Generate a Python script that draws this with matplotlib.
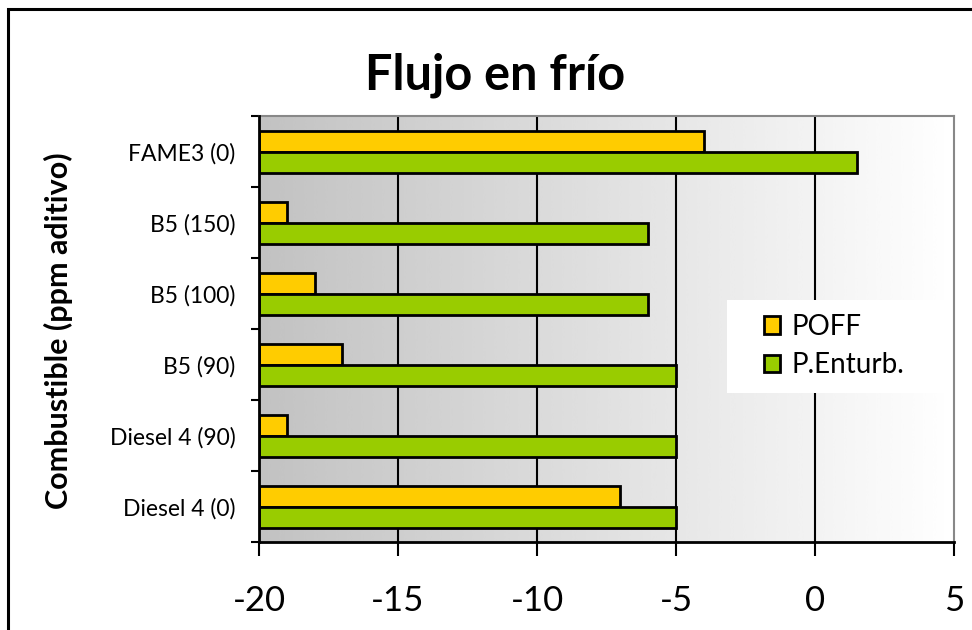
import numpy as np
import matplotlib.pyplot as plt
from matplotlib.patches import Rectangle

# datos
combustibles = ['Diesel 4 (0)', 'Diesel 4 (90)', 'B5 (90)', 'B5 (100)', 'B5 (150)', 'FAME3 (0)']
poff = [-7, -19, -17, -18, -19, -4]
p_enturb = [-5, -5, -5, -6, -6, 1.5]

plt.rcParams['font.family'] = ['Lato', 'DejaVu Sans']

fig = plt.figure(figsize=(9.72, 6.3), dpi=100)
ax = fig.add_axes([0.2665, 0.1397, 0.7150, 0.6762])

# fondo degradado gris -> blanco
grad = np.linspace(0.76, 1.0, 256).reshape(1, -1)
ax.imshow(grad, cmap='gray', vmin=0, vmax=1, aspect='auto',
          extent=[-20, 5, -0.5, 5.5], zorder=0, interpolation='bicubic')

for xv in [-15, -10, -5, 0]:
    ax.axvline(xv, color='black', lw=1.5, zorder=1)

y = np.arange(len(combustibles))
h = 0.285
ax.barh(y + 0.14, np.array(poff) + 20, left=-20, height=h, color='#FFCC00',
        edgecolor='black', lw=2, label='POFF', zorder=2)
ax.barh(y - 0.155, np.array(p_enturb) + 20, left=-20, height=h, color='#99CC00',
        edgecolor='black', lw=2, label='P.Enturb.', zorder=2)

ax.set_xlim(-20, 5)
ax.set_ylim(-0.5, 5.5)
ax.set_xticks([-20, -15, -10, -5, 0, 5])
ax.set_xticklabels(['-20', '-15', '-10', '-5', '0', '5'], fontsize=25)
ax.tick_params(axis='x', direction='out', length=10, width=1.5, pad=21)

ax.set_yticks(y)
ax.set_yticklabels(combustibles, fontsize=16.5)
ax.set_yticks(np.arange(-0.5, 6, 1), minor=True)
ax.tick_params(axis='y', which='major', length=0, pad=17)
ax.tick_params(axis='y', which='minor', direction='out', length=6, width=1.5)

for s in ['left', 'bottom']:
    ax.spines[s].set_linewidth(2)
    ax.spines[s].set_zorder(3)
for s in ['top', 'right']:
    ax.spines[s].set_color('#888888')
    ax.spines[s].set_linewidth(1.5)

fig.text(58 / 972, 1 - 331 / 630, 'Combustible (ppm aditivo)', fontsize=22,
         fontweight='bold', rotation=90, ha='center', va='center')
fig.text(0.509, 0.881, 'Flujo en frío', fontsize=35, fontweight='bold',
         ha='center', va='center')

# caja blanca de la leyenda
ax.add_patch(Rectangle((0.673, 0.350), 0.314, 0.218, transform=ax.transAxes,
                       facecolor='white', edgecolor='none', zorder=4))
leg = ax.legend(loc='upper left', bbox_to_anchor=(0.706, 0.568), fontsize=20,
                frameon=False, handlelength=0.6, handleheight=0.6,
                handletextpad=0.4, borderpad=0.5, labelspacing=0.45,
                borderaxespad=0)
leg.set_zorder(5)

# marco del gráfico
fig.patches.append(Rectangle((8 / 972, -0.1), 1.2, 1 - 9 / 630 + 0.1,
                             transform=fig.transFigure, fill=False,
                             edgecolor='black', lw=2.2))

fig.savefig('out.png', dpi=100)
